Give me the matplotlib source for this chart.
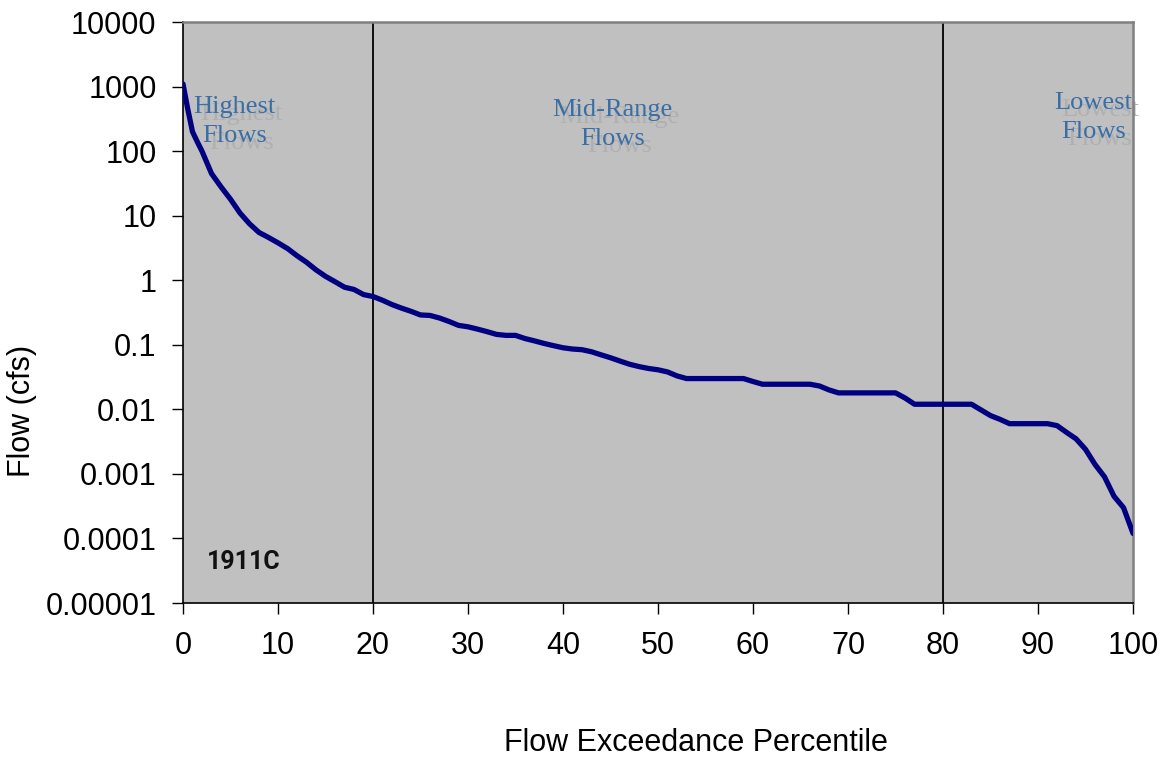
import matplotlib
matplotlib.use("Agg")
import matplotlib.pyplot as plt
from matplotlib.transforms import offset_copy

# ---- data ----
percentile = [0, 0.5, 1, 1.5, 2, 3, 4, 5, 6, 7, 8, 9, 10, 11, 12, 13, 14, 15, 16, 17,
              18, 19, 20, 21, 22, 23, 24, 25, 26, 27, 28, 29, 30, 31, 32, 33, 34, 35,
              36, 37, 38, 39, 40, 41, 42, 43, 44, 45, 46, 47, 48, 49, 50, 51, 52, 53,
              59, 60, 61, 66, 67, 68, 69, 75, 76, 77, 83, 84, 85, 86, 87, 91, 92, 93,
              94, 95, 96, 97, 98, 99, 100]
flow_cfs = [1100, 450, 200, 140, 100, 45, 28, 18, 11, 7.5, 5.5, 4.6, 3.8, 3.1, 2.4, 1.9,
            1.45, 1.15, 0.95, 0.78, 0.72, 0.6, 0.56, 0.49, 0.42, 0.37, 0.33, 0.29, 0.285,
            0.26, 0.23, 0.2, 0.19, 0.175, 0.16, 0.145, 0.14, 0.14, 0.125, 0.115, 0.105,
            0.097, 0.09, 0.086, 0.084, 0.078, 0.07, 0.063, 0.056, 0.05, 0.046, 0.043,
            0.041, 0.038, 0.033, 0.030, 0.030, 0.027, 0.0245, 0.0245, 0.023, 0.020,
            0.018, 0.018, 0.015, 0.012, 0.012, 0.0098, 0.008, 0.007, 0.006, 0.006,
            0.0056, 0.0044, 0.0035, 0.0024, 0.0014, 0.0009, 0.00045, 0.0003, 0.00012]

y_ticks = [1e-5, 1e-4, 1e-3, 1e-2, 1e-1, 1, 10, 100, 1000, 10000]
y_tick_labels = ["0.00001", "0.0001", "0.001", "0.01", "0.1", "1", "10", "100", "1000", "10000"]
x_ticks = [0, 10, 20, 30, 40, 50, 60, 70, 80, 90, 100]
zone_bounds = [20, 80]
zone_labels = ["Highest\nFlows", "Mid-Range\nFlows", "Lowest\nFlows"]
zone_label_x = [5.4, 45.2, 95.8]
zone_label_y = [290, 260, 330]
site_label = "1911C"

# ---- figure ----
plt.rcParams['font.family'] = ['Liberation Sans', 'DejaVu Sans']
fig = plt.figure(figsize=(11.7, 7.57), dpi=100)
ax = fig.add_axes([0.1564, 0.2034, 0.812, 0.7675])
ax.set_facecolor('#C0C0C0')

ax.plot(percentile, flow_cfs, color='#000080', lw=3.8, solid_joinstyle='round',
        solid_capstyle='round', zorder=3)
for b in zone_bounds:
    ax.axvline(b, color='black', lw=1.3, zorder=2)

ax.set_yscale('log')
ax.set_ylim(1e-5, 1e4)
ax.set_xlim(0, 100)
ax.set_yticks(y_ticks)
ax.set_yticklabels(y_tick_labels)
ax.yaxis.set_minor_locator(matplotlib.ticker.NullLocator())
ax.set_xticks(x_ticks)
ax.set_xticklabels([str(t) for t in x_ticks])
ax.tick_params(axis='both', direction='out', length=8, width=1, labelsize=22,
               color='black')
ax.tick_params(axis='y', pad=11)
ax.tick_params(axis='x', pad=12)

for s in ['left', 'bottom']:
    ax.spines[s].set_color('black')
    ax.spines[s].set_linewidth(1.2)
for s in ['top', 'right']:
    ax.spines[s].set_color('#808080')
    ax.spines[s].set_linewidth(1.8)

ax.set_xlabel("Flow Exceedance Percentile", fontsize=22)
ax.xaxis.set_label_coords(0.54, -0.215)
ax.set_ylabel("Flow (cfs)", fontsize=22, va='center')
ax.yaxis.set_label_coords(-0.169, 0.33)

# zone labels with drop shadow
for lbl, lx, ly in zip(zone_labels, zone_label_x, zone_label_y):
    sh = offset_copy(ax.transData, fig=fig, x=5, y=-5, units='points')
    ax.text(lx, ly, lbl, transform=sh, ha='center', va='center', color='#B0B0B0',
            fontsize=19, family='Liberation Serif', linespacing=1.4, zorder=1.5)
    ax.text(lx, ly, lbl, ha='center', va='center', color='#3A6EA5',
            fontsize=19, family='Liberation Serif', linespacing=1.4, zorder=1.6)

ax.text(2.5, 4.3e-5, site_label, ha='left', va='center', fontsize=18,
        family='Roboto', fontweight='bold', color='#111111')

fig.savefig('out.png', dpi=100, facecolor='white')
